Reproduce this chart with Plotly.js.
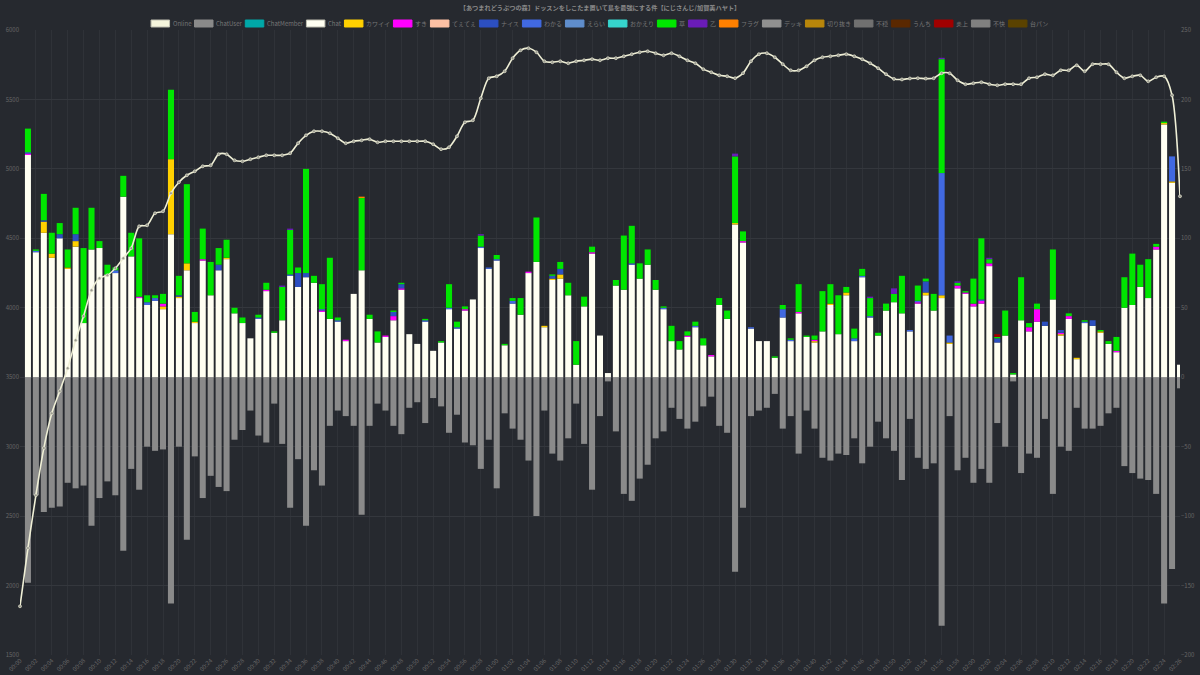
<!DOCTYPE html>
<html><head><meta charset="utf-8">
<script src="https://cdn.plot.ly/plotly-3.0.1.min.js"></script>
<style>html,body{margin:0;padding:0;background:#26292f;}#chart{width:1200px;height:675px;}</style>
</head><body><div id="chart"></div>
<script>
const TITLE = "【あつまれどうぶつの森】ドッスンをしこたま置いて島を最強にする件【にじさんじ/加賀美ハヤト】";

// Online viewers, minute 0 .. 146 (left axis)
const online = [
 1851,2270,2650,2990,3240,3400,3565,3766,3940,4126,
 4213,4234,4285,4357,4429,4587,4594,4681,4695,4825,
 4904,4954,4983,5019,5026,5106,5106,5062,5055,5070,
 5084,5098,5098,5098,5113,5185,5242,5271,5271,5257,
 5221,5185,5199,5206,5214,5192,5199,5199,5199,5199,
 5199,5199,5178,5142,5156,5235,5336,5350,5509,5653,
 5667,5703,5797,5854,5869,5840,5775,5768,5775,5761,
 5775,5782,5790,5782,5797,5797,5811,5826,5840,5847,
 5833,5818,5833,5811,5782,5761,5718,5696,5674,5667,
 5653,5689,5775,5826,5833,5804,5754,5710,5710,5739,
 5782,5804,5811,5818,5826,5811,5790,5761,5725,5682,
 5648,5644,5651,5653,5650,5653,5689,5689,5638,5610,
 5617,5624,5610,5602,5610,5610,5610,5653,5660,5682,
 5674,5710,5710,5746,5703,5754,5754,5754,5696,5653,
 5667,5674,5631,5660,5667,5530,4803];

// per-minute bar series, minute 1 .. 146 (right axis)
const chat = [
 160,90,104,86,100,78,94,39,92,93,
 74,75,130,87,57,52,55,49,103,57,
 77,39,84,59,77,85,46,39,28,42,
 62,32,41,73,65,72,68,47,42,40,
 26,60,77,42,25,29,41,63,31,24,
 40,19,25,49,35,48,56,93,78,84,
 23,53,45,75,83,36,70,71,59,9,
 51,89,30,3,66,63,81,71,81,63,
 49,26,20,29,36,23,15,52,42,110,
 97,35,26,26,14,43,26,46,29,25,
 33,52,31,59,26,72,43,30,48,54,
 46,33,53,59,48,57,24,64,60,51,
 53,80,25,30,2,41,33,40,37,56,
 30,42,13,39,37,32,24,18,50,52,
 65,57,92,182,140,9];
const kawaii = [
 0,0,8,3,0,1,4,0,0,0, 0,0,0,0,0,0,0,2,54,1, 5,1,0,0,0,1,0,0,0,0,
 0,0,0,0,0,0,0,0,0,0, 0,0,0,0,0,0,0,0,0,0, 0,0,0,0,0,0,0,0,0,0,
 0,0,0,0,0,1,1,3,0,0, 0,0,0,0,0,0,0,0,0,0, 0,0,0,0,0,0,0,0,0,1,
 0,0,0,0,0,0,0,0,0,1, 0,1,0,2,0,0,0,0,0,0, 0,0,0,2,0,2,1,0,0,0,
 0,0,0,0,0,0,0,0,0,0, 1,0,1,0,0,1,0,0,0,0, 0,0,0,1,1,0];
const suki = [
 1,0,0,0,0,0,0,0,0,0, 0,0,0,0,1,0,0,2,0,0, 0,0,1,0,0,0,0,0,0,0,
 1,0,0,0,0,0,0,1,0,0, 1,0,0,0,0,1,3,1,0,0, 0,0,0,0,0,1,0,0,0,0,
 0,0,0,1,0,0,0,0,0,0, 0,1,0,0,0,0,0,0,0,0, 0,0,0,1,0,0,1,0,0,0,
 1,0,0,0,0,0,0,1,0,1, 0,0,0,0,0,0,0,0,0,0, 0,0,1,0,0,0,0,2,1,2,
 2,2,0,0,0,0,3,9,0,0, 1,2,0,0,0,0,0,1,0,0, 0,0,2,0,0,0];
const nice = [
 0,0,1,0,3,0,5,0,0,0, 0,0,0,0,0,0,0,0,0,1, 0,0,0,0,4,0,0,0,0,0,
 0,0,0,0,10,3,0,0,0,0, 0,0,0,0,0,0,3,3,0,0, 0,0,0,0,0,0,0,0,0,0,
 0,0,0,0,0,0,2,4,0,0, 0,0,0,0,0,0,0,0,0,0, 0,0,0,0,0,0,0,0,0,0,
 0,0,0,0,0,0,0,0,0,0, 0,0,0,0,0,0,0,0,0,0, 0,0,0,8,0,0,0,0,0,0,
 0,0,3,0,0,0,0,0,3,0, 2,0,0,0,4,0,0,0,0,0, 0,0,0,0,0,0];
const wakaru = [
 1,1,0,0,0,0,0,0,0,0, 0,2,0,0,0,2,2,0,0,0, 0,0,0,0,0,0,0,0,0,1,
 0,0,0,1,0,0,0,1,0,1, 0,0,0,0,0,0,0,0,0,0, 1,0,0,1,1,0,0,1,1,1,
 0,2,0,0,0,0,0,0,0,0, 0,0,0,0,0,0,1,0,0,0, 1,0,0,0,1,0,0,0,0,0,
 0,1,0,0,0,6,1,0,0,0, 0,0,0,0,2,1,1,0,0,0, 0,1,1,0,0,88,5,0,0,0,
 1,0,0,0,0,0,0,0,0,0, 0,0,0,1,0,0,0,0,0,0, 0,0,0,0,18,0];
const kusa = [
 17,1,19,15,8,13,19,54,30,5, 7,2,15,17,42,5,2,7,50,14, 57,7,22,24,12,13,4,4,0,2,
 5,1,24,32,4,75,5,18,44,2, 0,0,52,3,8,0,1,1,0,0, 1,0,1,17,4,2,0,8,0,3,
 1,2,12,0,32,0,1,5,9,17, 7,4,0,0,4,39,27,11,11,7, 1,11,6,3,3,5,0,5,6,48,
 7,0,0,0,1,3,1,20,1,3, 29,14,28,4,7,5,13,2,5,6, 27,0,11,2,12,82,0,2,1,18,
 44,3,1,18,1,31,3,4,0,36, 0,2,0,1,0,1,2,10,22,37, 16,28,2,1,0,0];
const otsu = [
 0,0,0,0,0,0,0,0,0,0, 0,0,0,0,0,0,0,0,0,0, 0,0,0,0,0,0,0,0,0,0,
 0,0,1,1,0,0,0,0,0,0, 0,0,0,0,0,0,0,0,0,0, 0,0,0,0,0,0,0,1,0,0,
 0,0,0,0,0,0,0,0,0,0, 0,0,0,0,0,0,0,0,0,0, 0,0,0,0,0,0,0,0,0,2,
 0,0,0,0,0,0,0,0,0,0, 0,0,0,0,0,0,1,0,0,4, 0,0,0,0,0,1,0,1,0,0,
 0,1,0,0,0,0,0,0,0,0, 0,0,0,0,0,0,0,0,0,0, 0,0,0,0,0,0];
const flag = [
 0,0,0,0,0,0,0,0,0,0, 0,0,0,0,0,0,0,0,0,0, 0,0,0,0,0,0,0,0,0,0,
 0,0,0,0,0,0,0,0,0,0, 0,0,1,0,0,0,0,0,0,0, 0,0,0,0,0,0,0,0,0,0,
 0,0,0,0,0,0,0,0,0,0, 0,0,0,0,0,0,0,0,0,0, 0,0,0,0,0,0,0,0,0,0,
 0,0,0,0,0,0,0,0,0,0, 0,0,0,0,0,0,0,0,0,0, 0,0,0,0,0,0,0,0,0,0,
 0,0,0,0,0,0,0,0,0,0, 0,0,0,0,0,0,0,0,0,0, 0,0,0,0,0,0];
const enjou = [
 0,0,0,0,0,0,0,0,0,0, 0,0,0,0,0,0,0,0,0,0, 0,0,0,0,0,0,0,0,0,0,
 0,0,0,0,0,0,0,0,0,0, 0,0,0,0,0,0,0,0,0,0, 0,0,0,0,0,0,0,0,0,0,
 0,0,0,0,0,0,0,0,0,0, 0,0,0,0,0,0,0,0,0,0, 0,0,0,0,0,0,0,0,0,0,
 0,0,0,0,0,0,0,0,0,0, 0,0,0,0,0,0,0,0,0,0, 0,0,0,0,0,0,0,0,0,0,
 0,0,2,0,0,0,0,0,0,0, 0,0,0,0,0,0,0,0,0,0, 0,0,0,0,0,0];
const chatUser = [
 -148,-85,-97,-94,-93,-76,-80,-78,-107,-87,
 -75,-85,-125,-66,-81,-50,-53,-52,-163,-50,
 -117,-57,-87,-71,-79,-82,-45,-38,-24,-42,
 -47,-19,-48,-94,-59,-107,-67,-78,-35,-24,
 -28,-35,-99,-35,-19,-24,-35,-41,-22,-18,
 -33,-15,-21,-40,-27,-47,-49,-66,-45,-80,
 -26,-37,-45,-60,-100,-24,-55,-60,-44,-19,
 -48,-81,-28,-3,-39,-84,-89,-73,-63,-44,
 -39,-22,-30,-37,-32,-21,-14,-35,-40,-140,
 -94,-28,-24,-22,-12,-37,-28,-55,-24,-37,
 -58,-60,-55,-56,-44,-62,-50,-32,-44,-53,
 -74,-30,-58,-66,-62,-179,-28,-67,-58,-76,
 -66,-76,-33,-50,-3,-69,-55,-58,-30,-84,
 -50,-53,-22,-37,-37,-35,-26,-22,-64,-69,
 -73,-74,-84,-163,-138,-8];

const legendNames = ["Online","ChatUser","ChatMember","Chat","カワイイ","すき","てぇてぇ","ナイス","わかる","えらい","おかえり","草","乙","フラグ","デッキ","切り抜き","不穏","うんち","炎上","不快","台パン"];
const legendColors = ["#f4f4dc","#8a8a8a","#00a8a8","#fffff2","#ffd000","#ff00ff","#fcc0a4","#2c4fc0","#4169e1","#5f8dcc","#36d4cc","#00e600","#6a1cb8","#ff8000","#909090","#b8860b","#707070","#5a2800","#a00000","#808080","#5a4200"];

// time labels 00:00 .. 02:26
const timeLabels = [];
for (let m = 0; m < online.length; m++) {
  timeLabels.push(String(Math.floor(m/60)).padStart(2,"0") + ":" + String(m%60).padStart(2,"0"));
}
const barLabels = timeLabels.slice(1);
const tickLabels = timeLabels.filter((_, i) => i % 2 === 0);

const FONT = "'Noto Sans CJK JP', 'DejaVu Sans', sans-serif";
const colorOf = n => legendColors[legendNames.indexOf(n)];

const stacks = [["Chat",chat],["カワイイ",kawaii],["すき",suki],["ナイス",nice],["わかる",wakaru],["草",kusa],["乙",otsu],["フラグ",flag],["炎上",enjou]];
const traces = [];
traces.push({type:"bar", name:"ChatUser", x:barLabels, y:chatUser, yaxis:"y", width:0.76,
  marker:{color:colorOf("ChatUser"), line:{width:0}}});
stacks.forEach(([n,arr]) => traces.push({type:"bar", name:n, x:barLabels, y:arr, yaxis:"y", width:0.76,
  marker:{color:colorOf(n), line:{width:0}}}));
traces.push({type:"scatter", mode:"lines+markers", name:"Online", x:timeLabels, y:online, yaxis:"y2",
  cliponaxis:false,
  line:{color:"#efefd6", width:1.6, shape:"spline", smoothing:0.8},
  marker:{size:3, color:"#9a9a90", line:{color:"#efefd6", width:0.6}}});

// manual compact legend (Chart.js style)
const plotL = 20, plotR = 1180, plotT = 30, plotB = 655;
const px2x = p => (p - plotL) / (plotR - plotL);
const px2y = p => (plotB - p) / (plotB - plotT);
const cv = document.createElement("canvas").getContext("2d");
const LFS = 6;
cv.font = LFS + "px 'Noto Sans CJK JP'";
const SW = 18.5, SH = 7, TG = 2, IG = 4.5;
const widths = legendNames.map(n => cv.measureText(n).width);
const total = widths.reduce((a,w) => a + SW + TG + w + IG, 0) - IG;
let cx = 599 - total/2;
const shapes = [], annotations = [];
const ly = 23.5;
legendNames.forEach((n,i) => {
  const c = legendColors[i];
  const border = (n === "Chat" || n === "Online") ? "#bdbdb0" : c;
  shapes.push({type:"rect", xref:"paper", yref:"paper", x0:px2x(cx), x1:px2x(cx+SW), y0:px2y(ly-SH/2), y1:px2y(ly+SH/2),
    fillcolor:c, line:{color:border, width:1}});
  annotations.push({xref:"paper", yref:"paper", x:px2x(cx+SW+TG), y:px2y(ly), xanchor:"left", yanchor:"middle",
    text:n, showarrow:false, borderpad:0, font:{family:FONT, size:LFS, color:"#777"}});
  cx += SW + TG + widths[i] + IG;
});

const layout = {
  width:1200, height:675,
  margin:{l:plotL, r:1200-plotR, t:plotT, b:675-plotB},
  paper_bgcolor:"#26292f", plot_bgcolor:"#26292f",
  showlegend:false, barmode:"relative", hovermode:false,
  title:{text:TITLE, x:0.5, xanchor:"center", y:1-8/675, yanchor:"middle",
    font:{family:FONT, size:6.2, color:"#8a8a8a", weight:"bold"}},
  xaxis:{type:"category", categoryorder:"array", categoryarray:timeLabels, range:[0,146],
    tickmode:"array", tickvals:tickLabels, ticktext:tickLabels,
    tickangle:-45, tickfont:{family:FONT, size:6, color:"#666"}, showgrid:true, gridcolor:"#2f3238",
    gridwidth:1, zeroline:false, showline:false, ticks:"", automargin:false},
  yaxis:{side:"right", range:[-200,250], dtick:50, tickfont:{family:FONT, size:6, color:"#666"},
    showgrid:true, gridcolor:"#34373d", zeroline:false, showline:false, ticks:"", automargin:false},
  yaxis2:{overlaying:"y", side:"left", range:[1500,6000], dtick:500, tickfont:{family:FONT, size:6, color:"#666"},
    showgrid:false, zeroline:false, showline:false, ticks:"", automargin:false},
  shapes:shapes, annotations:annotations
};
Plotly.newPlot("chart", traces, layout, {staticPlot:true, displayModeBar:false});
</script></body></html>
